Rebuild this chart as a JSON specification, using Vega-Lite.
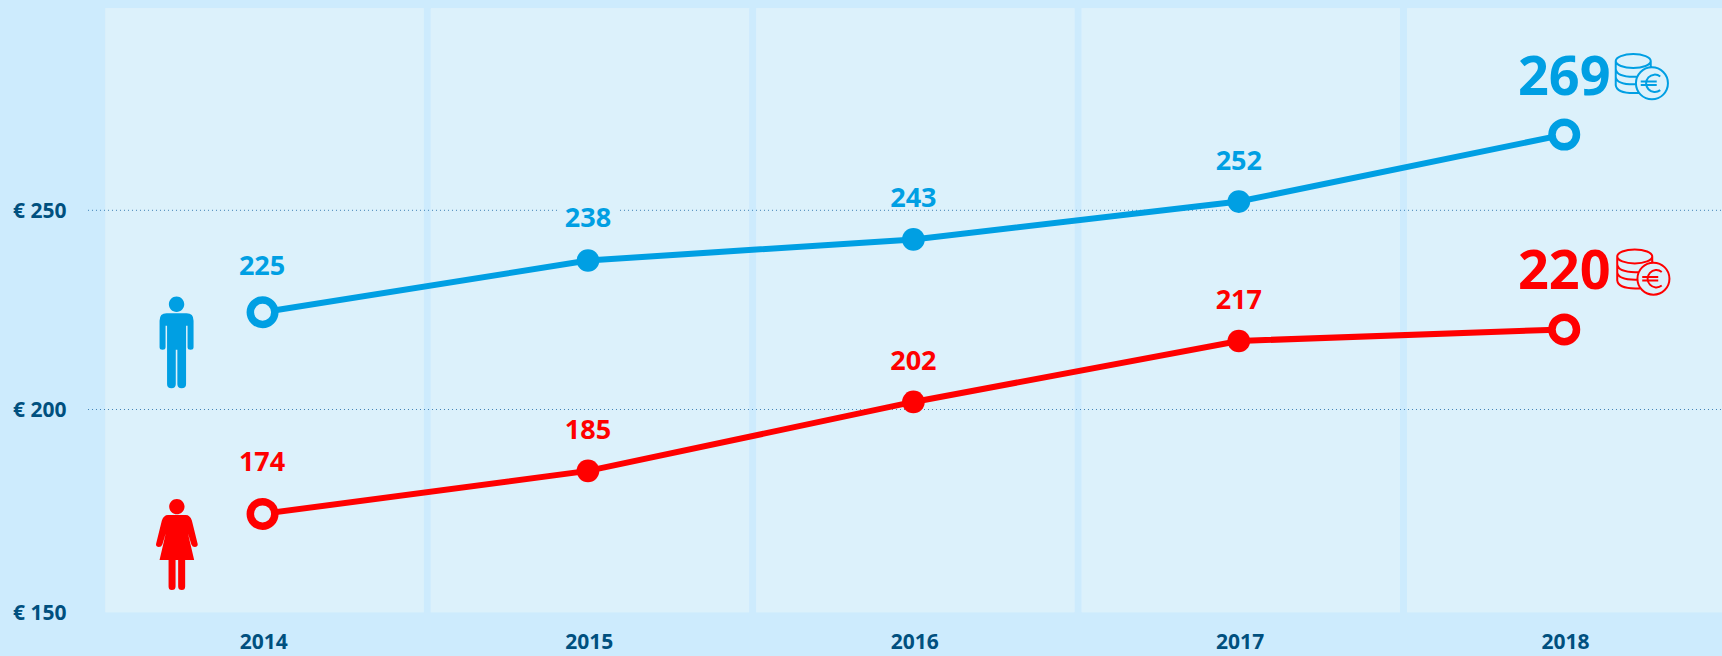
{
"$schema":"https://vega.github.io/schema/vega-lite/v6.json",
"width":1722,"height":656,"padding":0,"autosize":{"type":"none"},
"background":"#cdebfd",
"config":{"view":{"stroke":null},"font":"Open Sans"},
"datasets":{
"pay":[
{"year":"2014","series":"Men","value":224.4,"label":"225"},
{"year":"2015","series":"Men","value":237.4,"label":"238"},
{"year":"2016","series":"Men","value":242.7,"label":"243"},
{"year":"2017","series":"Men","value":252.2,"label":"252"},
{"year":"2018","series":"Men","value":269,"label":"269"},
{"year":"2014","series":"Women","value":173.8,"label":"174"},
{"year":"2015","series":"Women","value":184.6,"label":"185"},
{"year":"2016","series":"Women","value":201.9,"label":"202"},
{"year":"2017","series":"Women","value":217.2,"label":"217"},
{"year":"2018","series":"Women","value":220.1,"label":"220"}
],
"grid":[{"value":200,"from":"2014","to":"2018"},{"value":250,"from":"2014","to":"2018"}]
},
"data":{"name":"pay"},
"encoding":{
"x":{"field":"year","type":"nominal","scale":{"range":[105.4,1725.4],"paddingInner":0.0218,"paddingOuter":0},
"axis":{"orient":"bottom","offset":-26,"title":null,"ticks":false,"domain":false,"labelAngle":0,"labelPadding":12,"labelOffset":-0.7,"labelBaseline":"middle","labelFont":"Open Sans","labelFontWeight":"bold","labelFontSize":21,"labelColor":"#00507f","grid":false}},
"y":{"field":"value","type":"quantitative","scale":{"domain":[150,302.79],"range":[608.7,0],"nice":false,"zero":false},
"axis":{"orient":"left","title":null,"ticks":false,"domain":false,"grid":false,"values":[150,200,250],"labelExpr":"'€ ' + datum.value","labelAlign":"left","labelPadding":-12.5,"labelBaseline":"middle","labelFont":"Open Sans","labelFontWeight":"bold","labelFontSize":21,"labelColor":"#00507f","labelOverlap":false,"labelBound":false,"labelFlush":false,"labelOffset":{"expr":"datum.value==150?5:(datum.value==250?1.5:0.5)"}}},
"color":{"field":"series","type":"nominal","scale":{"domain":["Men","Women"],"range":["#009fe3","#ff0000"]},"legend":null}
},
"layer":[
{"mark":{"type":"rect","fill":"#dcf1fb"},"encoding":{"color":{"value":"#dcf1fb"},"y":{"datum":149.1},"y2":{"datum":300.7}}},
{"data":{"name":"grid"},"mark":{"type":"rule","stroke":"#3f80b4","strokeWidth":1,"strokeDash":[1,3],"x2Offset":200},
"encoding":{"color":{"value":"#3f80b4"},"x":{"field":"from","type":"nominal","bandPosition":-0.0547},"x2":{"field":"to"},"y":{"field":"value","type":"quantitative"}}},
{"transform":[{"filter":"datum.year=='2015' && datum.series=='Men'"}],"mark":{"type":"point","filled":true,"opacity":1,"size":4,"shape":"M-29,-13 H29 V13 H-29 Z","xOffset":-1.5,"yOffset":-42},"encoding":{"color":{"value":"#dcf1fb"}}},
{"mark":{"type":"line","strokeWidth":6,"xOffset":-2}},
{"transform":[{"filter":"datum.year!='2014' && datum.year!='2018'"}],"mark":{"type":"point","filled":true,"opacity":1,"size":515,"shape":"circle","xOffset":-2}},
{"transform":[{"filter":"datum.year=='2014' || datum.year=='2018'"}],"mark":{"type":"point","filled":false,"fill":"#dcf1fb","opacity":1,"size":600,"shape":"circle","strokeWidth":7.5,"xOffset":-2}},
{"transform":[{"filter":"datum.year!='2014' && datum.year!='2018' && datum.label!='238'"}],"mark":{"type":"text","font":"Open Sans","fontWeight":"bold","fontSize":27,"baseline":"middle","dy":-40,"xOffset":-2},"encoding":{"text":{"field":"label"}}},
{"transform":[{"filter":"datum.label=='238'"}],"mark":{"type":"text","font":"Open Sans","fontWeight":"bold","fontSize":27,"baseline":"middle","dy":-42,"xOffset":-2},"encoding":{"text":{"field":"label"}}},
{"transform":[{"filter":"datum.year=='2014' && datum.series=='Men'"}],"mark":{"type":"text","font":"Open Sans","fontWeight":"bold","fontSize":27,"baseline":"middle","dy":-45,"xOffset":-2.5},"encoding":{"text":{"field":"label"}}},
{"transform":[{"filter":"datum.year=='2014' && datum.series=='Women'"}],"mark":{"type":"text","font":"Open Sans","fontWeight":"bold","fontSize":27,"baseline":"middle","dy":-51,"xOffset":-2.5},"encoding":{"text":{"field":"label"}}},
{"transform":[{"filter":"datum.year=='2018'"}],"mark":{"type":"text","font":"Open Sans","fontWeight":"bold","fontSize":54,"baseline":"middle","dy":-56,"xOffset":-2},"encoding":{"text":{"field":"label"}}},
{"transform":[{"filter":"datum.year=='2014' && datum.series=='Men'"}],"mark":{"type":"point","filled":true,"opacity":1,"size":4,"xOffset":-88,"yOffset":30.4,"shape":"M-7.7,-38.4 a7.7,7.7 0 1,0 15.4,0 a7.7,7.7 0 1,0 -15.4,0 Z M-10,-29.4 H10 Q17,-29.4 17,-22 V4.5 Q17,7 14,7 Q11,7 11,4.5 V-17 H9.5 V41.5 Q9.5,45.5 5,45.5 Q1,45.5 0.8,41.5 V7 H-0.8 V41.5 Q-1,45.5 -5,45.5 Q-9.5,45.5 -9.5,41.5 V-17 H-11 V4.5 Q-11,7 -14,7 Q-17,7 -17,4.5 V-22 Q-17,-29.4 -10,-29.4 Z"}},
{"transform":[{"filter":"datum.year=='2014' && datum.series=='Women'"}],"mark":{"type":"point","filled":true,"opacity":1,"size":4,"xOffset":-87.7,"yOffset":30.5,"shape":"M-7.7,-37.8 a7.7,7.7 0 1,0 15.4,0 a7.7,7.7 0 1,0 -15.4,0 Z M-9,-29.5 H9 Q13,-29.5 15,-24 L20.7,-1 Q21.5,2.5 18,2.5 Q15.5,2.5 14.5,0 L9,-18 H9.5 L17.3,15.5 H8.3 V42 Q8.3,45.5 5,45.5 Q1.3,45.5 1.3,42 V15.5 H-1.3 V42 Q-1.3,45.5 -5,45.5 Q-8.3,45.5 -8.3,42 V15.5 H-17.3 L-9.5,-18 H-9 L-14.5,0 Q-15.5,2.5 -18,2.5 Q-21.5,2.5 -20.7,-1 L-15,-24 Q-13,-29.5 -9,-29.5 Z"}},
{"transform":[{"filter":"datum.year=='2018' && datum.series=='Men'"}],"mark":{"type":"point","filled":false,"opacity":1,"size":4,"strokeWidth":2,"xOffset":75.5,"yOffset":-57.6,"shape":"M-26,-16 a17.5,7 0 1,0 35,0 a17.5,7 0 1,0 -35,0 M9,-16 V-9 M-26,-16 V8 Q-25,16 -8,16 H-3 M-26,-8 Q-25,-0.3 -8,-0.3 H-4 M-26,0 Q-25,7.3 -8,7.3 H-6 M-5.8,6.3 a16,16 0 1,0 32,0 a16,16 0 1,0 -32,0 M18.5,-0.5 A8.7,8.7 0 1,0 18.5,13.1 M-1,4.5 H15 M-1,8 H15"}},
{"transform":[{"filter":"datum.year=='2018' && datum.series=='Women'"}],"mark":{"type":"point","filled":false,"opacity":1,"size":4,"strokeWidth":2,"xOffset":77,"yOffset":-57,"shape":"M-26,-16 a17.5,7 0 1,0 35,0 a17.5,7 0 1,0 -35,0 M9,-16 V-9 M-26,-16 V8 Q-25,16 -8,16 H-3 M-26,-8 Q-25,-0.3 -8,-0.3 H-4 M-26,0 Q-25,7.3 -8,7.3 H-6 M-5.8,6.3 a16,16 0 1,0 32,0 a16,16 0 1,0 -32,0 M18.5,-0.5 A8.7,8.7 0 1,0 18.5,13.1 M-1,4.5 H15 M-1,8 H15"}}
]
}
